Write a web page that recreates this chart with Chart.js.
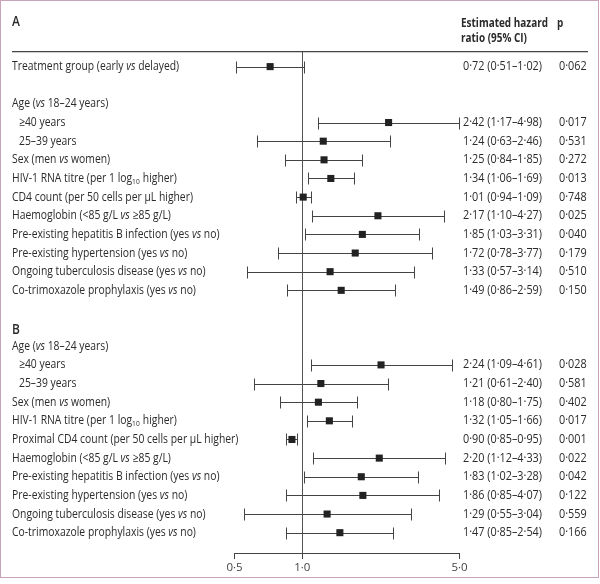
<!DOCTYPE html>
<html>
<head>
    <meta charset="UTF-8">
    <title>Hazard ratios</title>
    <script src="https://cdn.jsdelivr.net/npm/chart.js"></script>
    <style>
       body { margin: 0; background: #fff; }
       .chart-container { width: 600px; height: 584px; }
   </style>
</head>
<body>
   <div class="chart-container">
       <canvas id="forestChart" width="600" height="584"></canvas>
   </div>

    <script>
    // panel A
    const labelsA = ['Treatment group (early vs delayed)', '', 'Age (vs 18–24 years)', '≥40 years', '25–39 years',
        'Sex (men vs women)', 'HIV-1 RNA titre (per 1 log10 higher)', 'CD4 count (per 50 cells per µL higher)',
        'Haemoglobin (<85 g/L vs ≥85 g/L)', 'Pre-existing hepatitis B infection (yes vs no)',
        'Pre-existing hypertension (yes vs no)', 'Ongoing tuberculosis disease (yes vs no)',
        'Co-trimoxazole prophylaxis (yes vs no)'];
    const hrA = [0.72, null, null, 2.42, 1.24, 1.25, 1.34, 1.01, 2.17, 1.85, 1.72, 1.33, 1.49];
    const loA = [0.51, null, null, 1.17, 0.63, 0.84, 1.06, 0.94, 1.10, 1.03, 0.78, 0.57, 0.86];
    const hiA = [1.02, null, null, 4.98, 2.46, 1.85, 1.69, 1.09, 4.27, 3.31, 3.77, 3.14, 2.59];
    const pA  = [0.062, null, null, 0.017, 0.531, 0.272, 0.013, 0.748, 0.025, 0.040, 0.179, 0.510, 0.150];

    // panel B
    const labelsB = ['Age (vs 18–24 years)', '≥40 years', '25–39 years', 'Sex (men vs women)',
        'HIV-1 RNA titre (per 1 log10 higher)', 'Proximal CD4 count (per 50 cells per µL higher)',
        'Haemoglobin (<85 g/L vs ≥85 g/L)', 'Pre-existing hepatitis B infection (yes vs no)',
        'Pre-existing hypertension (yes vs no)', 'Ongoing tuberculosis disease (yes vs no)',
        'Co-trimoxazole prophylaxis (yes vs no)'];
    const hrB = [null, 2.24, 1.21, 1.18, 1.32, 0.90, 2.20, 1.83, 1.86, 1.29, 1.47];
    const loB = [null, 1.09, 0.61, 0.80, 1.05, 0.85, 1.12, 1.02, 0.85, 0.55, 0.85];
    const hiB = [null, 4.61, 2.40, 1.75, 1.66, 0.95, 4.33, 3.28, 4.07, 3.04, 2.54];
    const pB  = [null, 0.028, 0.581, 0.402, 0.017, 0.001, 0.022, 0.042, 0.122, 0.559, 0.166];

    const subRows = ['≥40 years', '25–39 years'];
    const tickVals = [0.5, 1, 5];

    const FONT = '"Open Sans", Lato, sans-serif';
    const FS = 12.5;
    const INK = '#2b2b2b';

    // one row per line, blank row and panel title between the two panels
    const rows = [];
    labelsA.forEach((l, i) => rows.push({ label: l, hr: hrA[i], lo: loA[i], hi: hiA[i], p: pA[i] }));
    rows.push({ label: '' });
    rows.push({ label: 'B', title: true });
    labelsB.forEach((l, i) => rows.push({ label: l, hr: hrB[i], lo: loB[i], hi: hiB[i], p: pB[i] }));

    const fmt = (v, d) => v.toFixed(d).replace('.', '·');

    // the original type is condensed: squeeze each kind of text to the width it has there
    function squeeze(ctx, font, sample, target) {
        ctx.font = font;
        return target / ctx.measureText(sample).width;
    }

    // label text with italic "vs" and subscript 10 in log10
    function drawRich(ctx, str, x, y, sq) {
        ctx.save();
        ctx.translate(x, y);
        ctx.scale(sq, 1);
        let cx = 0;
        str.split(/(\bvs\b|log10)/).forEach(part => {
            if (!part) return;
            if (part === 'vs') {
                ctx.font = 'italic ' + FS + 'px ' + FONT;
                ctx.fillText(part, cx, 0);
                cx += ctx.measureText(part).width;
            } else if (part === 'log10') {
                ctx.font = FS + 'px ' + FONT;
                ctx.fillText('log', cx, 0);
                cx += ctx.measureText('log').width;
                ctx.font = '8px ' + FONT;
                ctx.fillText('10', cx, 3);
                cx += ctx.measureText('10').width + 0.5;
            } else {
                ctx.font = FS + 'px ' + FONT;
                ctx.fillText(part, cx, 0);
                cx += ctx.measureText(part).width;
            }
        });
        ctx.restore();
    }

    function drawPlain(ctx, str, x, y, font, sq) {
        ctx.save();
        ctx.translate(x, y);
        ctx.scale(sq, 1);
        ctx.font = font;
        ctx.fillText(str, 0, 0);
        ctx.restore();
    }

    const forestPlugin = {
        id: 'forest',
        beforeDatasetsDraw(chart) {
            const { ctx, chartArea: a, scales: { x, y } } = chart;
            ctx.save();
            // line of no effect
            const x1 = Math.round(x.getPixelForValue(1)) + 0.5;
            ctx.strokeStyle = '#555';
            ctx.lineWidth = 1;
            ctx.beginPath();
            ctx.moveTo(x1, a.top);
            ctx.lineTo(x1, a.bottom);
            ctx.stroke();
            // rule under the header
            ctx.strokeStyle = '#444';
            ctx.lineWidth = 1.2;
            ctx.beginPath();
            ctx.moveTo(12, a.top);
            ctx.lineTo(588, a.top);
            ctx.stroke();
            // confidence intervals
            ctx.strokeStyle = '#444';
            ctx.lineWidth = 1;
            rows.forEach((r, i) => {
                if (r.hr == null) return;
                const yy = Math.round(y.getPixelForValue(i)) + 0.5;
                const xl = Math.round(x.getPixelForValue(r.lo)) + 0.5;
                const xh = Math.round(x.getPixelForValue(r.hi)) + 0.5;
                ctx.beginPath();
                ctx.moveTo(xl, yy); ctx.lineTo(xh, yy);
                ctx.moveTo(xl, yy - 6); ctx.lineTo(xl, yy + 6);
                ctx.moveTo(xh, yy - 6); ctx.lineTo(xh, yy + 6);
                ctx.stroke();
            });
            ctx.restore();
        },
        afterDraw(chart) {
            const { ctx, scales: { y } } = chart;
            ctx.save();
            const sqLab = squeeze(ctx, FS + 'px ' + FONT, 'Treatment group (early vs delayed)', 168);
            const sqNum = squeeze(ctx, FS + 'px ' + FONT, '0·72 (0·51–1·02)', 79);
            const sqHead = squeeze(ctx, 'bold ' + FS + 'px ' + FONT, 'Estimated hazard', 87);
            ctx.fillStyle = INK;
            ctx.textBaseline = 'middle';
            ctx.textAlign = 'left';
            // header
            drawPlain(ctx, 'A', 12, 22, '600 15px ' + FONT, sqHead);
            drawPlain(ctx, 'Estimated hazard', 461, 23, 'bold ' + FS + 'px ' + FONT, sqHead);
            drawPlain(ctx, 'ratio (95% CI)', 461, 38, 'bold ' + FS + 'px ' + FONT, sqHead);
            drawPlain(ctx, 'p', 557, 23, 'bold ' + FS + 'px ' + FONT, sqHead);
            rows.forEach((r, i) => {
                const yy = y.getPixelForValue(i);
                if (r.title) {
                    drawPlain(ctx, r.label, 12, yy + 2, '600 15px ' + FONT, sqHead);
                    return;
                }
                if (!r.label) return;
                drawRich(ctx, r.label, subRows.includes(r.label) ? 19 : 12, yy, sqLab);
                if (r.hr != null) {
                    drawPlain(ctx, fmt(r.hr, 2) + ' (' + fmt(r.lo, 2) + '–' + fmt(r.hi, 2) + ')', 463, yy, FS + 'px ' + FONT, sqNum);
                    drawPlain(ctx, fmt(r.p, 3), 559, yy, FS + 'px ' + FONT, sqNum);
                }
            });
            // frame
            ctx.strokeStyle = '#c9a3b8';
            ctx.lineWidth = 1;
            ctx.strokeRect(0.5, 0.5, 598, 577);
            ctx.restore();
        }
    };

    const points = rows.map((r, i) => r.hr == null ? null : { x: r.hr, y: i }).filter(Boolean);

    new Chart('forestChart', {
        type: 'scatter',
        data: {
            datasets: [{
                data: points,
                pointStyle: 'rect',
                pointRadius: 5,
                pointHoverRadius: 5,
                backgroundColor: '#222',
                borderWidth: 0,
                clip: false
            }]
        },
        options: {
            responsive: false,
            animation: false,
            events: [],
            layout: { padding: { left: 234.5, right: 140.5, top: 51.7, bottom: 0 } },
            plugins: { legend: { display: false }, tooltip: { enabled: false } },
            scales: {
                x: {
                    type: 'logarithmic',
                    min: 0.5,
                    max: 5,
                    afterBuildTicks: s => { s.ticks = tickVals.map(v => ({ value: v })); },
                    afterFit: s => { s.height = 31; },
                    ticks: {
                        callback: v => fmt(v, 1),
                        font: { family: FONT, size: 11.5 },
                        color: '#444',
                        padding: 2,
                        maxRotation: 0,
                        autoSkip: false
                    },
                    grid: { drawOnChartArea: false, drawTicks: true, tickLength: 6, color: '#444' },
                    border: { color: '#444', width: 1 }
                },
                y: {
                    type: 'linear',
                    display: false,
                    reverse: true,
                    min: -0.8,
                    max: 26.09
                }
            }
        },
        plugins: [forestPlugin]
    });
    </script>
</body>
</html>
